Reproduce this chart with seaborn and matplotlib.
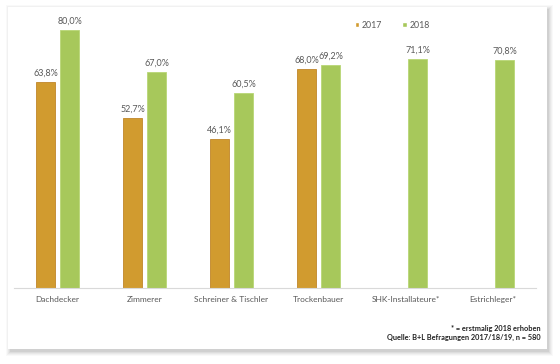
import numpy as np
import pandas as pd
import matplotlib
matplotlib.use("Agg")
import matplotlib.pyplot as plt
import seaborn as sns
from matplotlib.patches import Rectangle

categories = ["Dachdecker", "Zimmerer", "Schreiner & Tischler", "Trockenbauer",
              "SHK-Installateure*", "Estrichleger*"]
values_2017 = [63.8, 52.7, 46.1, 68.0, np.nan, np.nan]
values_2018 = [80.0, 67.0, 60.5, 69.2, 71.1, 70.8]
years = ["2017", "2018"]
colors = {"2017": "#D19B2F", "2018": "#A7C85B"}
edge_colors = {"2017": "#C0862A", "2018": "#B8D676"}

df = pd.DataFrame({
    "Beruf": categories * 2,
    "Jahr": ["2017"] * len(categories) + ["2018"] * len(categories),
    "Wert": values_2017 + values_2018,
})

sns.set_theme(style="white")
plt.rcParams["font.family"] = ["Lato", "DejaVu Sans"]

fig = plt.figure(figsize=(5.6, 3.64), dpi=100)
fig.patch.set_facecolor("white")

W, H = 560, 364
def frac_rect(x0, y0, x1, y1):
    return (x0 / W, 1 - y1 / H, (x1 - x0) / W, (y1 - y0) / H)

# soft shadow behind the card
for i, a in enumerate([0.025, 0.03, 0.035, 0.045, 0.055]):
    off = 5 - i
    fx, fy, fw, fh = frac_rect(8 - off + 3, 7 - off + 3, 547 + off + 1, 349 + off + 2)
    fig.patches.append(Rectangle((fx, fy), fw, fh, transform=fig.transFigure,
                                 facecolor="#000000", alpha=a, edgecolor="none", zorder=0))
fx, fy, fw, fh = frac_rect(8, 7, 547, 349)
fig.patches.append(Rectangle((fx, fy), fw, fh, transform=fig.transFigure,
                             facecolor="white", edgecolor="none", zorder=1))

ax = fig.add_axes([14 / W, (H - 288) / H, 522 / W, (85 * 3.225) / H])
ax.set_facecolor("none")
ax.set_zorder(2)

sns.barplot(data=df, x="Beruf", y="Wert", hue="Jahr", order=categories,
            hue_order=years, palette=colors, width=0.552, gap=0.2,
            ax=ax, legend=True, saturation=1)

for cont, yr in zip(ax.containers, years):
    for p in cont:
        p.set_edgecolor(edge_colors[yr])
        p.set_linewidth(0.6)
    labels = [f"{v:.1f}%".replace(".", ",") for v in cont.datavalues]
    ax.bar_label(cont, labels=labels, padding=3, fontsize=6.5, color="#595959")

ax.set_xlim(-0.5, 5.5)
ax.set_ylim(0, 85)
ax.set_xlabel("")
ax.set_ylabel("")
ax.set_yticks([])
ax.tick_params(axis="x", length=0, labelsize=6, labelcolor="#595959", pad=6)
for s in ["top", "right", "left"]:
    ax.spines[s].set_visible(False)
ax.spines["bottom"].set_color("#D9D9D9")
ax.spines["bottom"].set_linewidth(0.8)

handles, labels = ax.get_legend_handles_labels()
ax.legend(handles, labels, loc="center", bbox_to_anchor=(392 / W, 1 - 25 / H),
          bbox_transform=fig.transFigure, ncol=2, frameon=False, fontsize=6.3,
          handlelength=0.55, handleheight=0.55, handletextpad=0.3,
          columnspacing=2.2, labelcolor="#595959")

fig.text(541 / W, 1 - 328 / H, "* = erstmalig 2018 erhoben", ha="right", va="center",
         fontsize=5.3, fontweight="bold", color="#222222", zorder=3)
fig.text(541 / W, 1 - 337 / H, "Quelle: B+L Befragungen 2017/18/19, n = 580", ha="right",
         va="center", fontsize=5.3, fontweight="bold", color="#222222", zorder=3)

fig.savefig("out.png", dpi=100, facecolor=fig.get_facecolor())
